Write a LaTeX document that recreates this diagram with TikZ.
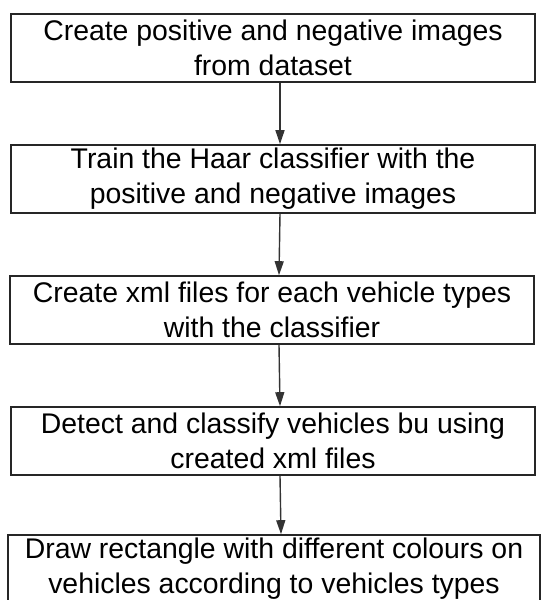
\documentclass[tikz,border=0pt]{standalone}
\usepackage{fontspec}
\setmainfont{Liberation Sans}
\usetikzlibrary{arrows.meta}
\begin{document}
\begin{tikzpicture}[x=0.5pt, y=-0.5pt, font=\fontsize{14.2}{17.5}\selectfont,
  stepbox/.style={draw=black!85, line width=0.8pt, minimum width=262pt,
    minimum height=34pt, inner sep=0pt, align=center},
  flow/.style={draw=black!80, line width=0.7pt,
    -{Triangle[length=7pt,width=4.5pt]}}]
  % 画布范围（下方最后一个框被裁切）
  \useasboundingbox (0,0) rectangle (544,600);
  \clip (0,0) rectangle (544,600);

  % 五个步骤框，自上而下
  \node[stepbox] (S1) at (273,48)  {Create positive and negative images\\from dataset};
  \node[stepbox] (S2) at (273,179) {Train the Haar classifier with the\\positive and negative images};
  \node[stepbox] (S3) at (272,310) {Create xml files for each vehicle types\\with the classifier};
  \node[stepbox] (S4) at (273,441) {Detect and classify vehicles bu using\\created xml files};
  \node[stepbox, minimum width=266pt] (S5) at (274,569)
    {Draw rectangle with different colours on\\vehicles according to vehicles types};

  % 步骤之间的箭头（略偏右）
  \foreach \a/\b in {S1/S2, S2/S3, S3/S4, S4/S5}
    \draw[flow] ([xshift=3.5pt]\a.south) -- ([xshift=3.5pt]\b.north);
\end{tikzpicture}
\end{document}
